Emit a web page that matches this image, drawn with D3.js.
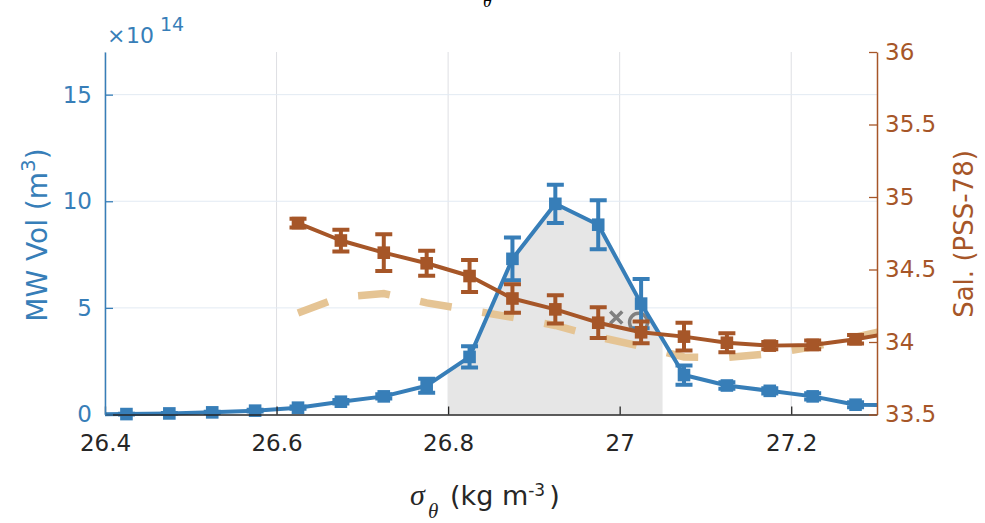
<!DOCTYPE html>
<html>
<head>
<meta charset="utf-8">
<script src="https://cdn.jsdelivr.net/npm/d3@7"></script>
<style>
  body { margin: 0; background: #fff; }
  svg { display: block; font-family: "DejaVu Sans", sans-serif; }
</style>
</head>
<body>
<svg id="chart" width="985" height="523"></svg>
<script>
// Potential-density bin centres (kg m^-3)
const sigmaBins = [26.375, 26.425, 26.475, 26.525, 26.575, 26.625, 26.675, 26.725, 26.775, 26.825,
                   26.875, 26.925, 26.975, 27.025, 27.075, 27.125, 27.175, 27.225, 27.275, 27.325];
// Mode-water volume per bin, in units of 1e14 m^3, with its uncertainty
const mwVolume    = [0.01, 0.02, 0.05, 0.10, 0.18, 0.32, 0.60, 0.85, 1.35, 2.70,
                     7.30, 9.88, 8.90, 5.20, 1.85, 1.36, 1.11, 0.85, 0.46, 0.42];
const mwVolumeErr = [0.01, 0.02, 0.02, 0.03, 0.04, 0.05, 0.08, 0.10, 0.33, 0.50,
                     1.00, 0.90, 1.15, 1.15, 0.45, 0.15, 0.12, 0.15, 0.12, 0.10];

// Salinity bins (from 26.625 upward)
const salBins     = [26.625, 26.675, 26.725, 26.775, 26.825, 26.875, 26.925, 26.975,
                     27.025, 27.075, 27.125, 27.175, 27.225, 27.275, 27.325];
const salinity    = [34.82, 34.70, 34.616, 34.543, 34.455, 34.30, 34.225, 34.133,
                     34.067, 34.037, 33.995, 33.975, 33.98, 34.019, 34.07];
const salinityErr = [0.03, 0.075, 0.127, 0.086, 0.11, 0.098, 0.097, 0.106,
                     0.075, 0.095, 0.066, 0.025, 0.03, 0.03, 0.03];
const refSalinity = [34.20, 34.31, 34.334, 34.27, 34.22, 34.17, 34.114, 34.035,
                     33.97, 33.897, 33.893, 33.92, 33.966, 34.033, 34.10];

// Individual salinity estimates
const crossPoint  = { sigma: 26.996, sal: 34.169 };
const circlePoint = { sigma: 27.022, sal: 34.136 };

// Density class highlighted as mode water
const modeRange = [26.8, 27.05];

const xTicks   = [26.4, 26.6, 26.8, 27, 27.2];
const volTicks = [0, 5, 10, 15];
const salTicks = [33.5, 34, 34.5, 35, 35.5, 36];

const C_BLUE  = "#377eb8";
const C_BROWN = "#a65628";
const C_TAN   = "#e5c494";
const C_GRAY  = "#808080";
const C_AXIS  = "#262626";
const SERIF   = "'Liberation Serif', 'Times New Roman', serif";

const L = 105, R = 877, T = 52, B = 414.5;

const svg = d3.select("#chart");
const x    = d3.scaleLinear().domain([26.4, 27.3]).range([L, R]);
const yVol = d3.scaleLinear().domain([0, 17]).range([B, T]);
const ySal = d3.scaleLinear().domain([33.5, 36]).range([B, T]);

svg.append("defs").append("clipPath").attr("id", "plotClip")
  .append("rect").attr("x", L).attr("y", T - 10).attr("width", R - L).attr("height", B - T + 20);

// grid
const grid = svg.append("g");
grid.selectAll("line.gx").data(xTicks).join("line")
  .attr("x1", d => x(d)).attr("x2", d => x(d)).attr("y1", T).attr("y2", B)
  .attr("stroke", "#dedfe3").attr("stroke-width", 1);
grid.selectAll("line.gy").data(volTicks.filter(d => d > 0)).join("line")
  .attr("x1", L).attr("x2", R).attr("y1", d => yVol(d)).attr("y2", d => yVol(d))
  .attr("stroke", "#e2eaf3").attr("stroke-width", 1);

const plot = svg.append("g").attr("clip-path", "url(#plotClip)");

// shaded mode-water area under the volume curve
const volPts = sigmaBins.map((s, i) => ({ s, v: mwVolume[i], e: mwVolumeErr[i] }));
const interpVol = s => {
  const i = d3.bisector(d => d.s).right(volPts, s) - 1;
  const a = volPts[i], b = volPts[i + 1];
  return a.v + (b.v - a.v) * (s - a.s) / (b.s - a.s);
};
const shadePts = [{ s: modeRange[0], v: interpVol(modeRange[0]) }]
  .concat(volPts.filter(d => d.s > modeRange[0] && d.s < modeRange[1]))
  .concat([{ s: modeRange[1], v: interpVol(modeRange[1]) }]);
plot.append("path").datum(shadePts)
  .attr("d", d3.area().x(d => x(d.s)).y0(yVol(0)).y1(d => yVol(d.v)))
  .attr("fill", "#e6e6e6");

// reference salinity (dashed)
const salPts = salBins.map((s, i) => ({ s, v: salinity[i], e: salinityErr[i], r: refSalinity[i] }));
plot.append("path").datum(salPts)
  .attr("d", d3.line().x(d => x(d.s)).y(d => ySal(d.r)))
  .attr("fill", "none").attr("stroke", C_TAN).attr("stroke-width", 7.5)
  .attr("stroke-dasharray", "32 31").attr("stroke-linecap", "butt");

// individual estimates
plot.append("circle")
  .attr("cx", x(circlePoint.sigma)).attr("cy", ySal(circlePoint.sal)).attr("r", 9)
  .attr("fill", "none").attr("stroke", C_GRAY).attr("stroke-width", 3.5);
const cx = x(crossPoint.sigma), cy = ySal(crossPoint.sal), h = 6;
plot.append("path")
  .attr("d", `M${cx - h},${cy - h}L${cx + h},${cy + h}M${cx - h},${cy + h}L${cx + h},${cy - h}`)
  .attr("stroke", C_GRAY).attr("stroke-width", 3.5).attr("fill", "none");

function errorSeries(g, pts, yScale, color) {
  g.append("path").datum(pts)
    .attr("d", d3.line().x(d => x(d.s)).y(d => yScale(d.v)))
    .attr("fill", "none").attr("stroke", color).attr("stroke-width", 4)
    .attr("stroke-linejoin", "round");
  const capW = 8.5, m = 6.3;
  const eb = g.append("g").attr("stroke", color).attr("stroke-width", 4).attr("fill", "none");
  eb.selectAll("path").data(pts).join("path")
    .attr("d", d => {
      const px = x(d.s), y1 = yScale(d.v + d.e), y2 = yScale(d.v - d.e);
      return `M${px},${y1}L${px},${y2}M${px - capW},${y1}L${px + capW},${y1}M${px - capW},${y2}L${px + capW},${y2}`;
    });
  g.append("g").selectAll("rect").data(pts).join("rect")
    .attr("x", d => x(d.s) - m).attr("y", d => yScale(d.v) - m)
    .attr("width", 2 * m).attr("height", 2 * m).attr("fill", color);
}

errorSeries(plot.append("g"), volPts, yVol, C_BLUE);
errorSeries(plot.append("g"), salPts, ySal, C_BROWN);

// axes
const fontSize = 23;
function styleAxis(g, color) {
  g.attr("font-family", null).attr("font-size", null);
  g.select(".domain").attr("stroke", color).attr("stroke-width", 1.5);
  g.selectAll(".tick line").attr("stroke", color).attr("stroke-width", 1.3);
  g.selectAll("text").attr("fill", color).attr("font-size", fontSize);
}
const gx = svg.append("g").attr("transform", `translate(0,${B})`)
  .call(d3.axisBottom(x).tickValues(xTicks).tickSizeInner(-8).tickSizeOuter(0).tickPadding(20)
        .tickFormat(d3.format("")));
styleAxis(gx, C_AXIS);

const gl = svg.append("g").attr("transform", `translate(${L},0)`)
  .call(d3.axisLeft(yVol).tickValues(volTicks).tickSizeInner(-8).tickSizeOuter(0).tickPadding(13));
styleAxis(gl, C_BLUE);

const gr = svg.append("g").attr("transform", `translate(${R},0)`)
  .call(d3.axisRight(ySal).tickValues(salTicks).tickSizeInner(-8).tickSizeOuter(0).tickPadding(8)
        .tickFormat(d3.format("")));
styleAxis(gr, C_BROWN);

// exponent on the volume axis
const expo = svg.append("text").attr("y", 43).attr("fill", C_BLUE).attr("font-size", 22);
expo.append("tspan").attr("x", 107).text("\u00d7");
expo.append("tspan").attr("x", 126).text("10");
expo.append("tspan").attr("x", 160).attr("y", 31).attr("font-size", 19).text("14");

// axis titles
const yl = svg.append("text").attr("transform", "translate(47,235) rotate(-90)")
  .attr("text-anchor", "middle").attr("fill", C_BLUE).attr("font-size", 28);
yl.append("tspan").text("MW Vol (m");
yl.append("tspan").attr("font-size", 20).attr("dy", -12).text("3");
yl.append("tspan").attr("dy", 12).text(")");

svg.append("text").attr("transform", "translate(973,234) rotate(-90)")
  .attr("text-anchor", "middle").attr("fill", C_BROWN).attr("font-size", 26)
  .text("Sal. (PSS-78)");

const xl = svg.append("text").attr("y", 505).attr("fill", C_AXIS).attr("font-size", 27);
xl.append("tspan").attr("x", 410).attr("font-family", SERIF)
  .attr("font-style", "italic").attr("font-size", 30).text("\u03c3");
xl.append("tspan").attr("x", 428).attr("y", 518).attr("font-family", SERIF)
  .attr("font-style", "italic").attr("font-size", 21).text("\u03b8");
xl.append("tspan").attr("x", 450).attr("y", 505).text("(kg m");
xl.append("tspan").attr("font-size", 17).attr("y", 496).text("-3");
xl.append("tspan").attr("y", 505).attr("dx", 4).text(")");

// tail of the figure title above the axes
svg.append("text").attr("x", 483).attr("y", 7)
  .attr("font-family", SERIF).attr("font-style", "italic")
  .attr("font-size", 18).attr("fill", "#000").text("\u03b8");
</script>
</body>
</html>
